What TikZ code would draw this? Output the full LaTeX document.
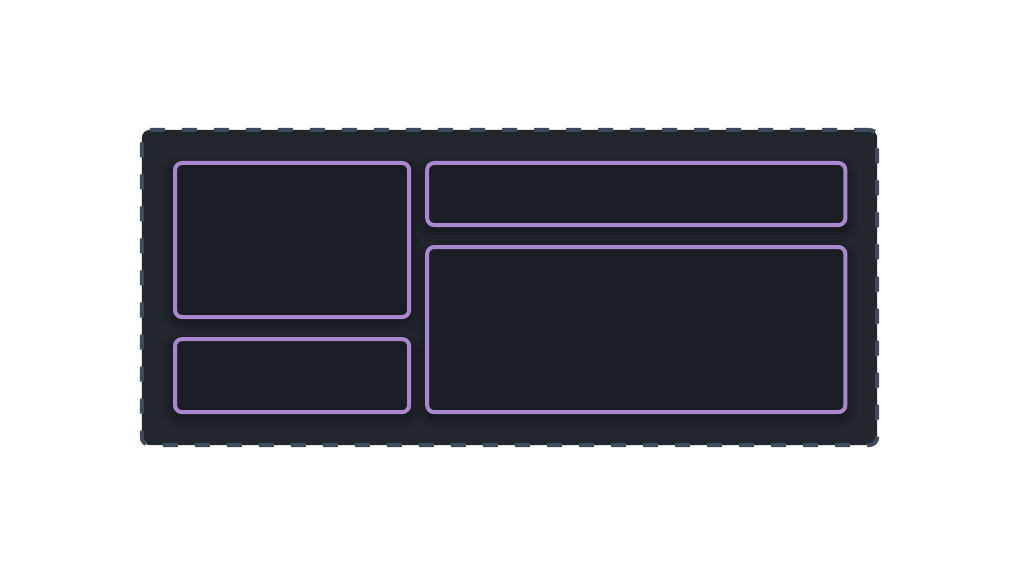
\documentclass[tikz,border=0pt]{standalone}
\usepackage{xcolor}
\usetikzlibrary{positioning,shadows.blur}

\definecolor{frameFill}{RGB}{34,38,45}
\definecolor{frameEdge}{RGB}{61,75,90}
\definecolor{panelFill}{RGB}{27,30,36}
\definecolor{panelEdge}{RGB}{168,136,206}

\begin{document}
\begin{tikzpicture}[
  x=0.01cm, y=-0.01cm,
  frame/.style={draw=frameEdge, fill=frameFill, line width=0.04cm,
                dash pattern=on 0.15cm off 0.17cm, rounded corners=0.08cm,
                minimum width=7.35cm, minimum height=3.15cm,
                inner sep=0pt, outer sep=0pt},
  panel/.style={draw=panelEdge, fill=panelFill, line width=0.04cm,
                rounded corners=0.07cm, inner sep=0pt, outer sep=0pt,
                blur shadow={shadow xshift=0cm, shadow yshift=-0.05cm,
                             shadow blur radius=0.12cm, shadow opacity=55}}
]
  \useasboundingbox[fill=white] (0,0) rectangle (1024,576);

  \node[frame] (outer) at (509.5,287.5) {};

  \node[panel, minimum width=2.34cm, minimum height=1.54cm,
        anchor=north west] (view) at (175,163) {};
  \node[panel, minimum width=2.34cm, minimum height=0.73cm,
        below=0.22cm of view.south west, anchor=north west] (status) {};
  \node[panel, minimum width=4.18cm, minimum height=0.62cm,
        right=0.18cm of view.north east, anchor=north west] (header) {};
  \node[panel, minimum width=4.18cm, minimum height=1.65cm,
        below=0.22cm of header.south west, anchor=north west] (content) {};
\end{tikzpicture}
\end{document}
